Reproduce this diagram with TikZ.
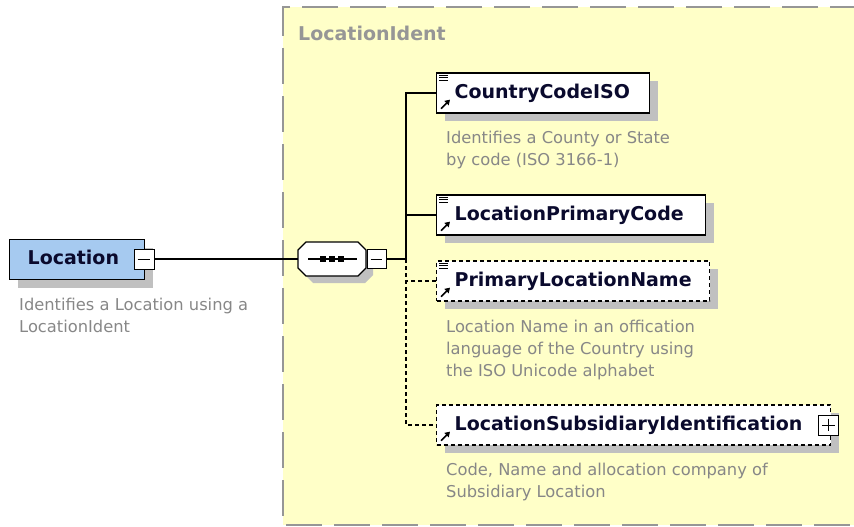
\documentclass[tikz,border=0pt]{standalone}
\usepackage{fontspec}
\setmainfont{DejaVu Sans}
\usetikzlibrary{shadows,arrows.meta}
\definecolor{identbg}{RGB}{255,255,200}
\definecolor{identline}{RGB}{150,150,150}
\definecolor{shade}{RGB}{192,192,192}
\definecolor{locblue}{RGB}{166,202,240}
\definecolor{labelink}{RGB}{10,10,45}
\definecolor{noteink}{RGB}{135,135,135}
\tikzset{
  elem/.style={draw,line width=1.3pt,fill=white,anchor=west,minimum height=40pt,inner xsep=18pt,align=left,
    text height=14pt,text depth=4pt,font=\fontsize{19}{22}\selectfont\bfseries,text=labelink,
    general shadow={fill=shade,shadow xshift=8pt,shadow yshift=-8pt}},
  optional/.style={dash pattern=on 4pt off 3pt},
  note/.style={anchor=base west,align=left,inner sep=0pt,font=\fontsize{16.3}{22}\selectfont,text=noteink},
  toggle/.style={draw,line width=0.9pt,fill=white,minimum width=20pt,minimum height=20pt,inner sep=0pt},
  wire/.style={line width=1.1pt},
  seqshade/.style={fill=shade,shift={(7,7)}},
  seqbody/.style={draw,fill=white,line width=1.3pt}
}
\begin{document}
\begin{tikzpicture}[x=1pt,y=-1pt]
	\useasboundingbox (0,0) rectangle (854,527);
	% complex type area
	\fill[identbg] (283,7) rectangle (854,525);
	\draw[identline,line width=2pt,dash pattern=on 36pt off 12pt,dash phase=12pt] (854,7) -- (283,7) -- (283,525) -- (854,525);
	\node[anchor=west,inner sep=0pt,font=\fontsize{19}{22}\selectfont\bfseries,text=identline] (identTitle) at (298,33) {LocationIdent};

	\begin{scope}[every node/.style={elem}]
		\node[fill=locblue,text width=99pt] (location) at (9,259.5) {Location};
		\node[text width=177pt] (country) at (436,93) {CountryCodeISO};
		\node[text width=233pt] (primary) at (436,215) {LocationPrimaryCode};
		\node[text width=237pt,optional] (name) at (436,281) {PrimaryLocationName};
		\node[text width=358pt,optional] (subsid) at (436,425) {LocationSubsidiaryIdentification};
	\end{scope}

	% sequence compositor
	\foreach \look in {seqshade,seqbody}
		\path[\look] (306,242) -- (358,242) -- (366,250) -- (366,268) -- (358,276)
			-- (306,276) -- (298,268) -- (298,250) -- cycle;
	\node[minimum width=68pt,minimum height=34pt,inner sep=0pt] (seq) at (332,259) {};
	\draw[wire] ([xshift=-24pt]seq.center) -- ([xshift=25pt]seq.center);
	\foreach \dx in {-9,0,9}
		\fill ([xshift=\dx pt]seq.center) +(-3pt,-3pt) rectangle +(3pt,3pt);

	\begin{scope}[every node/.style={toggle}]
		\node (locToggle) at (144,259) {};
		\node[minimum width=19pt,minimum height=19pt] (seqToggle) at (376.5,259) {};
		\node (subsidToggle) at (828.5,425) {};
	\end{scope}
	\draw[line width=0.9pt] ([xshift=4pt]locToggle.west) -- ([xshift=-4pt]locToggle.east);
	\draw[line width=0.9pt] ([xshift=4pt]seqToggle.west) -- ([xshift=-4pt]seqToggle.east);
	\draw[line width=0.9pt] ([xshift=4pt]subsidToggle.west) -- ([xshift=-4pt]subsidToggle.east)
		([yshift=-4pt]subsidToggle.north) -- ([yshift=4pt]subsidToggle.south);

	% little type icons
	\foreach \n in {country,primary,name} {
		\foreach \dy in {3,5.5,8}
			\draw[line width=0.9pt] ([shift={(3pt,-\dy pt)}]\n.north west) -- ([shift={(12pt,-\dy pt)}]\n.north west);
	}
	\foreach \n in {country,primary,name,subsid}
		\draw[line width=1.6pt,-{Triangle[length=5pt,width=6pt]}] ([shift={(5pt,5pt)}]\n.south west) -- ([shift={(14pt,14pt)}]\n.south west);

	% connectors
	\coordinate (bus) at (406,259);
	\draw[wire] (locToggle.east) -- (seq.west);
	\draw[wire] (seqToggle.east) -- (bus);
	\draw[wire] (country.west) -| (bus);
	\draw[wire] (primary.west) -- (bus |- primary.west);
	\draw[wire,optional] (bus) |- (subsid.west);
	\draw[wire,optional] (name.west) -- (bus |- name.west);

	% annotations (anchored on the last line)
	\node[note] (locNote) at (19,332) {Identifies a Location using a\\LocationIdent};
	\node[note] (countryNote) at (446,165) {Identifies a County or State\\by code (ISO 3166-1)};
	\node[note] (nameNote) at (446,376) {Location Name in an offication\\language of the Country using\\the ISO Unicode alphabet};
	\node[note] (subsidNote) at (446,497) {Code, Name and allocation company of\\Subsidiary Location};
\end{tikzpicture}
\end{document}
